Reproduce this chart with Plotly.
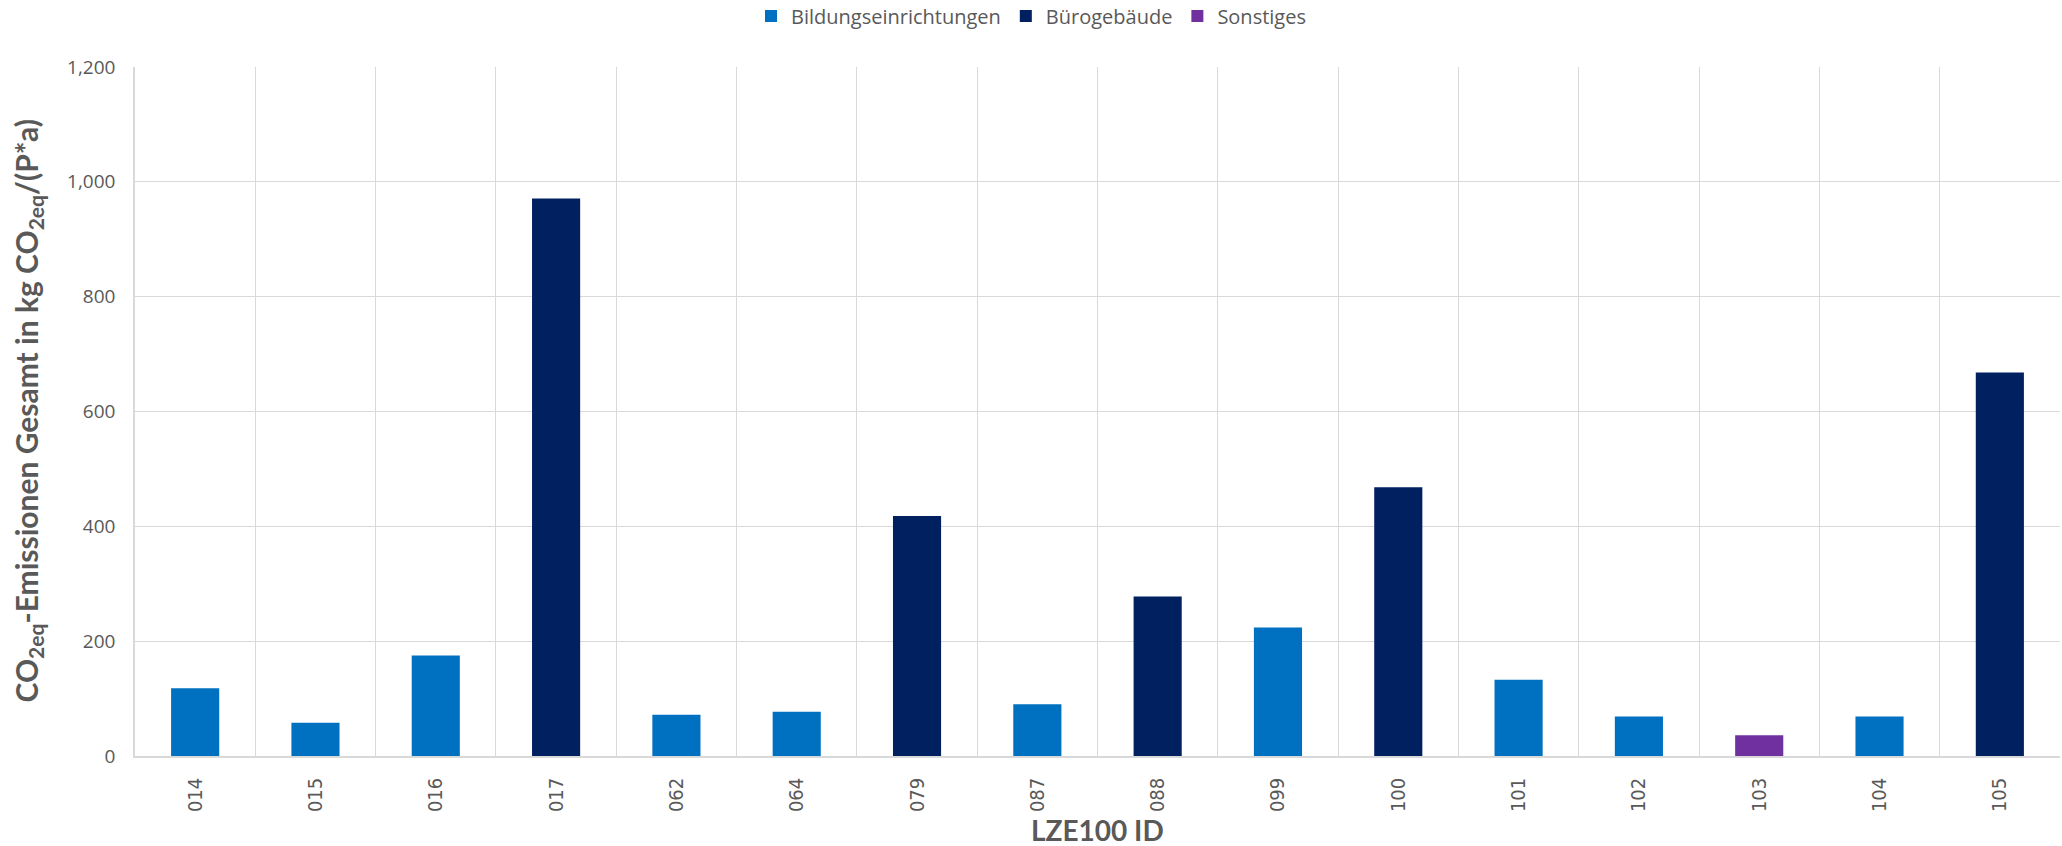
import plotly.graph_objects as go

categories = ["014", "015", "016", "017", "062", "064", "079", "087",
              "088", "099", "100", "101", "102", "103", "104", "105"]
groups = ["Bildung", "Bildung", "Bildung", "Buero", "Bildung", "Bildung", "Buero", "Bildung",
          "Buero", "Bildung", "Buero", "Bildung", "Bildung", "Sonst", "Bildung", "Buero"]
values = [118, 58, 175, 971, 72, 77, 418, 90, 278, 224, 468, 133, 69, 36, 69, 668]

series_names = {"Bildung": "Bildungseinrichtungen", "Buero": "Bürogebäude", "Sonst": "Sonstiges"}
series_colors = {"Bildung": "#0070C0", "Buero": "#002060", "Sonst": "#7030A0"}

y_ticks = [0, 200, 400, 600, 800, 1000, 1200]

fig = go.Figure()
for key in ["Bildung", "Buero", "Sonst"]:
    ys = [v if g == key else None for v, g in zip(values, groups)]
    fig.add_trace(go.Bar(
        x=categories, y=ys, name=series_names[key],
        marker=dict(color=series_colors[key], line=dict(width=0)),
        width=0.4,
    ))

grey = "#595959"
gridc = "#d9d9d9"

fig.update_layout(
    width=2062, height=846,
    margin=dict(l=135, r=2, t=67, b=90),
    paper_bgcolor="white", plot_bgcolor="white",
    barmode="overlay",
    showlegend=True,
    legend=dict(orientation="h", xref="container", yref="container",
                x=0.5, xanchor="center", y=0.981, yanchor="middle",
                font=dict(family="Open Sans", size=20, color=grey),
                itemwidth=30, tracegroupgap=0),
    font=dict(family="Open Sans", color=grey),
)

fig.update_xaxes(
    type="category", categoryorder="array", categoryarray=categories,
    tickson="boundaries", showgrid=True, gridcolor=gridc, gridwidth=1,
    showline=True, linecolor=gridc, linewidth=1.5, mirror=False,
    ticks="", tickangle=-90, ticklabelstandoff=12,
    tickfont=dict(family="Liberation Sans Narrow, DejaVu Sans Condensed, Roboto", size=20, color=grey),
    zeroline=False,
)
fig.update_yaxes(
    range=[0, 1200], tickvals=y_ticks, tickformat=",",
    showgrid=True, gridcolor=gridc, gridwidth=1,
    showline=True, linecolor=gridc, linewidth=1.5,
    ticks="", ticklabelstandoff=14,
    tickfont=dict(family="Open Sans", size=19, color=grey),
    zeroline=False,
)

fig.add_annotation(
    xref="paper", yref="paper", x=0.5, y=0, yshift=-74,
    xanchor="center", yanchor="middle", showarrow=False,
    text="<b>LZE100 ID</b>",
    font=dict(family="Lato", size=28, color=grey),
)

fig.add_annotation(
    xref="paper", yref="paper", x=0, y=0.5, xshift=-108,
    xanchor="center", yanchor="middle", textangle=-90, showarrow=False,
    text="<b>CO<sub>2eq</sub>-Emissionen Gesamt in kg CO<sub>2eq</sub>/(P*a)</b>",
    font=dict(family="Lato", size=30, color=grey),
)

fig.write_html("out.html")
